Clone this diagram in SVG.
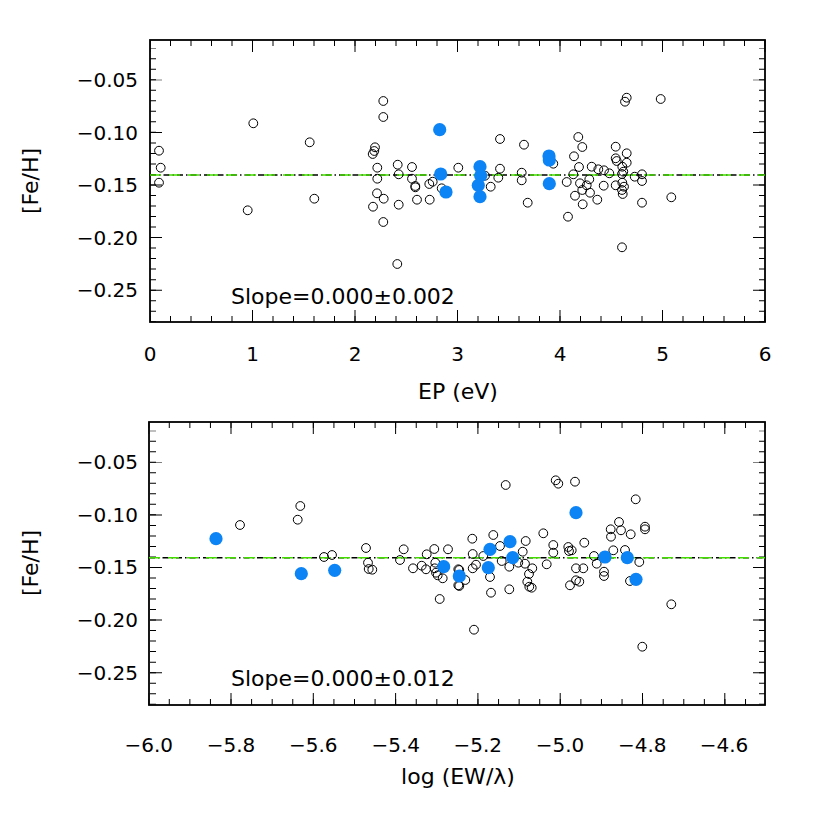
<svg xmlns="http://www.w3.org/2000/svg" xmlns:xlink="http://www.w3.org/1999/xlink" width="830" height="830" viewBox="0 0 830 830">
<style>
.ax{fill:none;stroke:#000;stroke-width:1.8}
.tk{fill:none;stroke:#000}
.o{fill:none;stroke:#000;stroke-width:1}
.b{fill:#0d84f5;stroke:none}
.t{font-family:"DejaVu Sans","Liberation Sans",sans-serif;font-size:20px;fill:#000}
.ti{font-family:"DejaVu Sans","Liberation Sans",sans-serif;font-size:22px;fill:#000}
.fd{stroke:#000;stroke-width:1.4;stroke-dasharray:6 3 1.5 3}
.fg{stroke:#44dd00;stroke-width:1.6;stroke-dasharray:11 8}
</style>
<defs>
<g id="yt">
<line class="tk" x1="153" y1="48.2" x2="153" y2="322" stroke-width="6" stroke-dasharray="1 9.52" stroke-dashoffset="0.5"/>
<line class="tk" x1="156" y1="79.8" x2="156" y2="292" stroke-width="12" stroke-dasharray="1 51.6" stroke-dashoffset="0.5"/>
<line class="tk" x1="762" y1="48.2" x2="762" y2="322" stroke-width="6" stroke-dasharray="1 9.52" stroke-dashoffset="0.5"/>
<line class="tk" x1="759" y1="79.8" x2="759" y2="292" stroke-width="12" stroke-dasharray="1 51.6" stroke-dashoffset="0.5"/>
</g>
</defs>
<rect width="830" height="830" fill="#fff"/>
<g id="panel-top">
<rect class="ax" x="150" y="40" width="615" height="282"/>
<use xlink:href="#yt"/>
<line class="tk" x1="150" y1="319" x2="766" y2="319" stroke-width="6" stroke-dasharray="1 19.5" stroke-dashoffset="0.5"/>
<line class="tk" x1="150" y1="316" x2="766" y2="316" stroke-width="12" stroke-dasharray="1 101.5" stroke-dashoffset="0.5"/>
<line class="tk" x1="150" y1="43" x2="766" y2="43" stroke-width="6" stroke-dasharray="1 19.5" stroke-dashoffset="0.5"/>
<line class="tk" x1="150" y1="46" x2="766" y2="46" stroke-width="12" stroke-dasharray="1 101.5" stroke-dashoffset="0.5"/>
<g class="t" text-anchor="end">
<text x="138" y="87">−0.05</text><text x="138" y="139.5">−0.10</text><text x="138" y="192">−0.15</text><text x="138" y="244.5">−0.20</text><text x="138" y="297">−0.25</text>
</g>
<g class="t" text-anchor="middle">
<text x="150" y="361">0</text><text x="252.5" y="361">1</text><text x="355" y="361">2</text><text x="457.5" y="361">3</text><text x="560" y="361">4</text><text x="662.5" y="361">5</text><text x="765" y="361">6</text>
</g>
<text class="ti" x="458" y="399" text-anchor="middle">EP (eV)</text>
<text class="ti" transform="translate(38,181) rotate(-90)" text-anchor="middle">[Fe/H]</text>
<text class="ti" x="231" y="304">Slope=0.000±0.002</text>
<line class="fd" x1="150" y1="175" x2="765" y2="175"/>
<line class="fg" x1="150" y1="175" x2="765" y2="175"/>
<g id="open-top">
<circle class="o" r="4.4" cx="159" cy="150.7"/><circle class="o" r="4.4" cx="160.7" cy="167.7"/><circle class="o" r="4.4" cx="159" cy="182.7"/><circle class="o" r="4.4" cx="253.3" cy="123.3"/><circle class="o" r="4.4" cx="247.7" cy="210.3"/><circle class="o" r="4.4" cx="309.7" cy="142.3"/><circle class="o" r="4.4" cx="314.3" cy="198.7"/><circle class="o" r="4.4" cx="383.3" cy="101"/><circle class="o" r="4.4" cx="383.3" cy="117"/><circle class="o" r="4.4" cx="375" cy="147.3"/><circle class="o" r="4.4" cx="374.3" cy="151"/><circle class="o" r="4.4" cx="372.7" cy="154"/><circle class="o" r="4.4" cx="377.3" cy="167.7"/><circle class="o" r="4.4" cx="377.3" cy="178.7"/><circle class="o" r="4.4" cx="377" cy="193.3"/><circle class="o" r="4.4" cx="373" cy="206.7"/><circle class="o" r="4.4" cx="383.7" cy="198.7"/><circle class="o" r="4.4" cx="383.3" cy="222"/><circle class="o" r="4.4" cx="397.7" cy="164.7"/><circle class="o" r="4.4" cx="398.7" cy="174.3"/><circle class="o" r="4.4" cx="398.7" cy="204.7"/><circle class="o" r="4.4" cx="397.3" cy="264"/><circle class="o" r="4.4" cx="412" cy="167"/><circle class="o" r="4.4" cx="412" cy="178.7"/><circle class="o" r="4.4" cx="415.3" cy="186"/><circle class="o" r="4.4" cx="415.3" cy="187.3"/><circle class="o" r="4.4" cx="417" cy="199.7"/><circle class="o" r="4.4" cx="429.3" cy="184"/><circle class="o" r="4.4" cx="432.7" cy="181.7"/><circle class="o" r="4.4" cx="429.7" cy="199.7"/><circle class="o" r="4.4" cx="441.7" cy="188.3"/><circle class="o" r="4.4" cx="458.3" cy="167.7"/>
<circle class="o" r="4.4" cx="500" cy="139"/><circle class="o" r="4.4" cx="500" cy="168.7"/><circle class="o" r="4.4" cx="498.3" cy="177.7"/><circle class="o" r="4.4" cx="490.7" cy="186.7"/><circle class="o" r="4.4" cx="485" cy="175.7"/><circle class="o" r="4.4" cx="524" cy="144.7"/><circle class="o" r="4.4" cx="521.7" cy="172.7"/><circle class="o" r="4.4" cx="521.7" cy="180.3"/><circle class="o" r="4.4" cx="527.7" cy="202.7"/><circle class="o" r="4.4" cx="553.3" cy="163.7"/><circle class="o" r="4.4" cx="578.3" cy="137"/><circle class="o" r="4.4" cx="582.3" cy="147"/><circle class="o" r="4.4" cx="574" cy="156.3"/><circle class="o" r="4.4" cx="579" cy="167"/><circle class="o" r="4.4" cx="573.3" cy="174.3"/><circle class="o" r="4.4" cx="566.7" cy="182"/><circle class="o" r="4.4" cx="580" cy="183.3"/><circle class="o" r="4.4" cx="586.7" cy="185.3"/><circle class="o" r="4.4" cx="582.3" cy="190"/><circle class="o" r="4.4" cx="589.3" cy="179.3"/><circle class="o" r="4.4" cx="590" cy="192.7"/><circle class="o" r="4.4" cx="575" cy="195.7"/><circle class="o" r="4.4" cx="582.7" cy="204.3"/><circle class="o" r="4.4" cx="597.3" cy="199.7"/><circle class="o" r="4.4" cx="568" cy="216.7"/><circle class="o" r="4.4" cx="591.7" cy="166.7"/><circle class="o" r="4.4" cx="598.3" cy="169.3"/><circle class="o" r="4.4" cx="604" cy="170.3"/><circle class="o" r="4.4" cx="609.3" cy="173.3"/><circle class="o" r="4.4" cx="603.7" cy="185.7"/><circle class="o" r="4.4" cx="615.7" cy="146.7"/><circle class="o" r="4.4" cx="626.7" cy="153.3"/><circle class="o" r="4.4" cx="615.7" cy="158.3"/><circle class="o" r="4.4" cx="616.7" cy="161"/><circle class="o" r="4.4" cx="626.7" cy="162.7"/><circle class="o" r="4.4" cx="622.3" cy="166.7"/><circle class="o" r="4.4" cx="623.3" cy="171.7"/><circle class="o" r="4.4" cx="622" cy="174"/><circle class="o" r="4.4" cx="634.7" cy="176.7"/><circle class="o" r="4.4" cx="642" cy="174.3"/><circle class="o" r="4.4" cx="642" cy="181"/><circle class="o" r="4.4" cx="615.7" cy="185.3"/><circle class="o" r="4.4" cx="622.3" cy="182.7"/><circle class="o" r="4.4" cx="624" cy="186.7"/><circle class="o" r="4.4" cx="622" cy="190"/><circle class="o" r="4.4" cx="622.7" cy="194"/><circle class="o" r="4.4" cx="642" cy="202.7"/><circle class="o" r="4.4" cx="622" cy="247.3"/><circle class="o" r="4.4" cx="626.7" cy="97.7"/><circle class="o" r="4.4" cx="625" cy="101.7"/><circle class="o" r="4.4" cx="660.7" cy="99"/><circle class="o" r="4.4" cx="671.3" cy="197.3"/>
</g>
<g id="blue-top">
<circle class="b" r="6.6" cx="439.7" cy="129.7"/><circle class="b" r="6.6" cx="440.7" cy="174"/><circle class="b" r="6.6" cx="446" cy="192"/><circle class="b" r="6.6" cx="480" cy="166.7"/><circle class="b" r="6.6" cx="480.7" cy="175.7"/><circle class="b" r="6.6" cx="478.3" cy="185.3"/><circle class="b" r="6.6" cx="480" cy="196.7"/><circle class="b" r="6.6" cx="549" cy="156"/><circle class="b" r="6.6" cx="549.3" cy="160"/><circle class="b" r="6.6" cx="549.3" cy="183.7"/>
</g>
</g>
<g id="panel-bottom">
<rect class="ax" x="149" y="422" width="616" height="283"/>
<use xlink:href="#yt" transform="translate(0,382.5)"/>
<line class="tk" x1="148.7" y1="702" x2="766" y2="702" stroke-width="6" stroke-dasharray="1 19.58" stroke-dashoffset="0.5"/>
<line class="tk" x1="148.7" y1="699" x2="766" y2="699" stroke-width="12" stroke-dasharray="1 81.3" stroke-dashoffset="0.5"/>
<line class="tk" x1="148.7" y1="425" x2="766" y2="425" stroke-width="6" stroke-dasharray="1 19.58" stroke-dashoffset="0.5"/>
<line class="tk" x1="148.7" y1="428" x2="766" y2="428" stroke-width="12" stroke-dasharray="1 81.3" stroke-dashoffset="0.5"/>
<g class="t" text-anchor="end">
<text x="138" y="469">−0.05</text><text x="138" y="521.5">−0.10</text><text x="138" y="574">−0.15</text><text x="138" y="627">−0.20</text><text x="138" y="680">−0.25</text>
</g>
<g class="t" text-anchor="middle">
<text x="148.7" y="752">−6.0</text><text x="231" y="752">−5.8</text><text x="313.3" y="752">−5.6</text><text x="395.7" y="752">−5.4</text><text x="477.7" y="752">−5.2</text><text x="560" y="752">−5.0</text><text x="642.3" y="752">−4.8</text><text x="724" y="752">−4.6</text>
</g>
<text class="ti" x="458" y="784" text-anchor="middle">log (EW/λ)</text>
<text class="ti" transform="translate(38,563) rotate(-90)" text-anchor="middle">[Fe/H]</text>
<text class="ti" x="231" y="686">Slope=0.000±0.012</text>
<line class="fd" x1="149" y1="557.7" x2="765" y2="557.7"/>
<line class="fg" x1="149" y1="557.7" x2="765" y2="557.7"/>
<g id="open-bottom">
<circle class="o" r="4.4" cx="240" cy="525"/><circle class="o" r="4.4" cx="300.3" cy="506"/><circle class="o" r="4.4" cx="297.7" cy="519.7"/><circle class="o" r="4.4" cx="324" cy="557"/><circle class="o" r="4.4" cx="332" cy="555"/><circle class="o" r="4.4" cx="366" cy="548"/><circle class="o" r="4.4" cx="368" cy="562.7"/><circle class="o" r="4.4" cx="368.7" cy="569"/><circle class="o" r="4.4" cx="372.3" cy="569.7"/><circle class="o" r="4.4" cx="400" cy="560"/><circle class="o" r="4.4" cx="403.7" cy="549.3"/><circle class="o" r="4.4" cx="413" cy="568.3"/><circle class="o" r="4.4" cx="421.7" cy="565.7"/><circle class="o" r="4.4" cx="426" cy="569.3"/><circle class="o" r="4.4" cx="426.7" cy="554.3"/><circle class="o" r="4.4" cx="434.3" cy="549"/><circle class="o" r="4.4" cx="435.3" cy="562.7"/><circle class="o" r="4.4" cx="434.7" cy="568.3"/><circle class="o" r="4.4" cx="436" cy="572.7"/><circle class="o" r="4.4" cx="437.7" cy="575.3"/><circle class="o" r="4.4" cx="442.7" cy="578.3"/><circle class="o" r="4.4" cx="439.7" cy="599"/><circle class="o" r="4.4" cx="448" cy="549.3"/><circle class="o" r="4.4" cx="458.3" cy="569.3"/><circle class="o" r="4.4" cx="458.3" cy="585.3"/>
<circle class="o" r="4.4" cx="505.7" cy="485"/><circle class="o" r="4.4" cx="555.7" cy="480.3"/><circle class="o" r="4.4" cx="558.3" cy="483.7"/><circle class="o" r="4.4" cx="575" cy="481.7"/><circle class="o" r="4.4" cx="635.7" cy="499.3"/><circle class="o" r="4.4" cx="472.3" cy="538.7"/><circle class="o" r="4.4" cx="493.3" cy="535"/><circle class="o" r="4.4" cx="500" cy="546"/><circle class="o" r="4.4" cx="472.7" cy="554"/><circle class="o" r="4.4" cx="476" cy="564.7"/><circle class="o" r="4.4" cx="472.7" cy="568.3"/><circle class="o" r="4.4" cx="459.3" cy="570"/><circle class="o" r="4.4" cx="465.3" cy="580"/><circle class="o" r="4.4" cx="459.3" cy="586"/><circle class="o" r="4.4" cx="490" cy="577"/><circle class="o" r="4.4" cx="491" cy="592.7"/><circle class="o" r="4.4" cx="483.3" cy="556"/><circle class="o" r="4.4" cx="501.7" cy="561"/><circle class="o" r="4.4" cx="509.3" cy="566.7"/><circle class="o" r="4.4" cx="509.3" cy="589.3"/><circle class="o" r="4.4" cx="522.7" cy="551.7"/><circle class="o" r="4.4" cx="525.7" cy="541"/><circle class="o" r="4.4" cx="518.3" cy="562.7"/><circle class="o" r="4.4" cx="525" cy="563.7"/><circle class="o" r="4.4" cx="532.3" cy="568.3"/><circle class="o" r="4.4" cx="529" cy="574"/><circle class="o" r="4.4" cx="527.3" cy="581.7"/><circle class="o" r="4.4" cx="529.3" cy="586.7"/><circle class="o" r="4.4" cx="531.7" cy="587.7"/><circle class="o" r="4.4" cx="543.3" cy="533.3"/><circle class="o" r="4.4" cx="546.7" cy="564.3"/><circle class="o" r="4.4" cx="553.3" cy="545"/><circle class="o" r="4.4" cx="553.3" cy="552.7"/><circle class="o" r="4.4" cx="568.3" cy="547"/><circle class="o" r="4.4" cx="569" cy="551"/><circle class="o" r="4.4" cx="571.7" cy="550.3"/><circle class="o" r="4.4" cx="584.3" cy="542.7"/><circle class="o" r="4.4" cx="576" cy="568.3"/><circle class="o" r="4.4" cx="583.3" cy="568.3"/><circle class="o" r="4.4" cx="576" cy="580.3"/><circle class="o" r="4.4" cx="579.3" cy="581.7"/><circle class="o" r="4.4" cx="570" cy="585.3"/><circle class="o" r="4.4" cx="594" cy="556"/><circle class="o" r="4.4" cx="596.7" cy="563.7"/><circle class="o" r="4.4" cx="604" cy="571.7"/><circle class="o" r="4.4" cx="604" cy="576"/><circle class="o" r="4.4" cx="610.7" cy="529.3"/><circle class="o" r="4.4" cx="619" cy="522"/><circle class="o" r="4.4" cx="621" cy="530.3"/><circle class="o" r="4.4" cx="611" cy="536.7"/><circle class="o" r="4.4" cx="630.7" cy="534.3"/><circle class="o" r="4.4" cx="613.3" cy="550.3"/><circle class="o" r="4.4" cx="625" cy="550"/><circle class="o" r="4.4" cx="639.3" cy="562"/><circle class="o" r="4.4" cx="630" cy="581"/><circle class="o" r="4.4" cx="645" cy="526.7"/><circle class="o" r="4.4" cx="645" cy="529.3"/><circle class="o" r="4.4" cx="474" cy="629.7"/><circle class="o" r="4.4" cx="671.3" cy="604.3"/><circle class="o" r="4.4" cx="642.3" cy="646.7"/>
</g>
<g id="blue-bottom">
<circle class="b" r="6.6" cx="216" cy="538.7"/><circle class="b" r="6.6" cx="301.3" cy="573.7"/><circle class="b" r="6.6" cx="334.7" cy="570.3"/><circle class="b" r="6.6" cx="443.7" cy="566.7"/><circle class="b" r="6.6" cx="459.3" cy="576"/><circle class="b" r="6.6" cx="490" cy="549.3"/><circle class="b" r="6.6" cx="488.3" cy="567.7"/><circle class="b" r="6.6" cx="510" cy="541.7"/><circle class="b" r="6.6" cx="512.7" cy="557.7"/><circle class="b" r="6.6" cx="576" cy="512.7"/><circle class="b" r="6.6" cx="605" cy="557"/><circle class="b" r="6.6" cx="627.3" cy="557.7"/><circle class="b" r="6.6" cx="636" cy="579.3"/>
</g>
</g>
</svg>
